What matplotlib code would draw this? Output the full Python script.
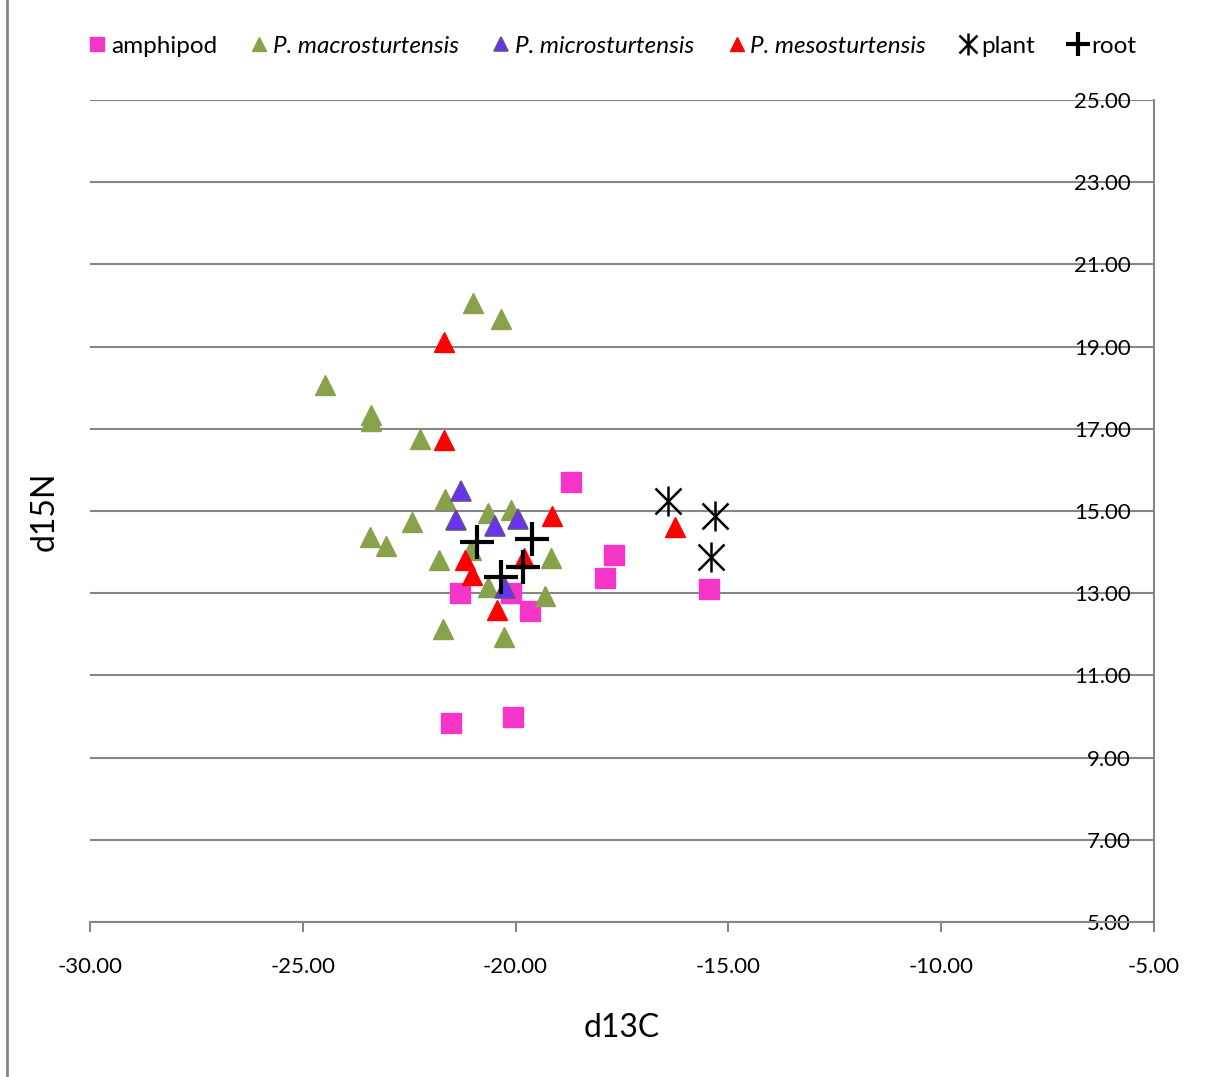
import numpy as np
import matplotlib.pyplot as plt
from matplotlib.lines import Line2D
from matplotlib.legend_handler import HandlerTuple

plt.rcParams['font.family'] = ['Lato', 'DejaVu Sans']

# series (d13C, d15N)
amph_x = [-18.69, -21.31, -20.10, -19.67, -17.91, -17.68, -15.45, -21.51, -20.05]
amph_y = [15.70, 13.00, 13.00, 12.57, 13.36, 13.93, 13.10, 9.83, 9.98]

macro_x = [-21.00, -20.35, -24.49, -23.39, -23.39, -22.25, -21.67, -22.43, -23.43,
           -23.05, -20.65, -20.10, -21.04, -21.80, -19.16, -20.65, -19.32, -21.70, -20.28]
macro_y = [20.05, 19.67, 18.07, 17.34, 17.20, 16.75, 15.30, 14.74, 14.37,
           14.15, 14.94, 15.02, 14.05, 13.81, 13.86, 13.16, 12.92, 12.14, 11.94]

micro_x = [-21.28, -21.39, -20.49, -19.95, -20.26]
micro_y = [15.49, 14.77, 14.64, 14.80, 13.12]

meso_x = [-21.68, -21.68, -19.14, -21.20, -21.02, -19.81, -20.44, -16.25]
meso_y = [19.10, 16.73, 14.88, 13.81, 13.44, 13.85, 12.59, 14.62]

plant_x = [-16.41, -15.31, -15.41]
plant_y = [15.24, 14.88, 13.89]

root_x = [-20.91, -19.61, -20.35, -19.83]
root_y = [14.25, 14.33, 13.39, 13.63]

x_ticks = [-30, -25, -20, -15, -10, -5]
y_ticks = [5, 7, 9, 11, 13, 15, 17, 19, 21, 23, 25]

grey = '#868686'

fig = plt.figure(figsize=(12.07, 10.77), dpi=100)
ax = fig.add_axes([90 / 1207, 1 - 922 / 1077, (1154 - 90) / 1207, (922 - 100) / 1077])

h_amph, = ax.plot(amph_x, amph_y, 's', ms=14, color='#f535c8', mec='#f535c8', label='amphipod')
h_macro, = ax.plot(macro_x, macro_y, '^', ms=15, color='#87a24b', mec='#87a24b', label='P. macrosturtensis')
h_micro, = ax.plot(micro_x, micro_y, '^', ms=15, color='#6633f0', mec='#64508c', mew=1.2,
                   label='P. microsturtensis')
h_meso, = ax.plot(meso_x, meso_y, '^', ms=15, color='#ff0000', mec='#ff0000', label='P. mesosturtensis')
p1, = ax.plot(plant_x, plant_y, 'x', ms=19, color='black', mew=1.8)
p2, = ax.plot(plant_x, plant_y, '|', ms=22, color='black', mew=1.8)
h_root, = ax.plot(root_x, root_y, '+', ms=24, color='black', mew=3)

ax.set_xlim(-30, -5)
ax.set_ylim(5, 25)
ax.set_xticks(x_ticks)
ax.set_xticklabels(['%.2f' % v for v in x_ticks])
ax.set_yticks(y_ticks)
ax.set_yticklabels(['%.2f' % v for v in y_ticks])

ax.grid(axis='y', color=grey, lw=1.5)
ax.set_axisbelow(True)
for s in ['left', 'top']:
    ax.spines[s].set_visible(False)
for s in ['right', 'bottom']:
    ax.spines[s].set_color(grey)
    ax.spines[s].set_linewidth(1.5)

ax.tick_params(axis='x', direction='out', length=7, width=1.5, color=grey, pad=18, labelsize=16)
ax.tick_params(axis='y', left=False, right=False, labelleft=False, labelright=True,
               pad=-20, labelsize=16)
for lbl in ax.get_yticklabels():
    lbl.set_horizontalalignment('right')

ax.set_xlabel('d13C', fontsize=23, labelpad=26)
ax.set_ylabel('d15N', fontsize=23, labelpad=22)

handles = [h_amph, h_macro, h_micro, h_meso, (p1, p2), h_root]
labels = ['amphipod', 'P. macrosturtensis', 'P. microsturtensis', 'P. mesosturtensis', 'plant', 'root']
leg = fig.legend(handles, labels, loc='center', bbox_to_anchor=(0.508, 1 - 46 / 1077), ncol=6,
                 frameon=False, fontsize=17.5, markerscale=0.7, handlelength=0.6,
                 handletextpad=0.25, columnspacing=1.45,
                 handler_map={tuple: HandlerTuple(ndivide=1, pad=0)})
for t in leg.get_texts()[1:4]:
    t.set_style('italic')

fig.add_artist(Line2D([7 / 1207, 7 / 1207], [0, 1], color=grey, lw=2))

fig.savefig('out.png', dpi=100)
